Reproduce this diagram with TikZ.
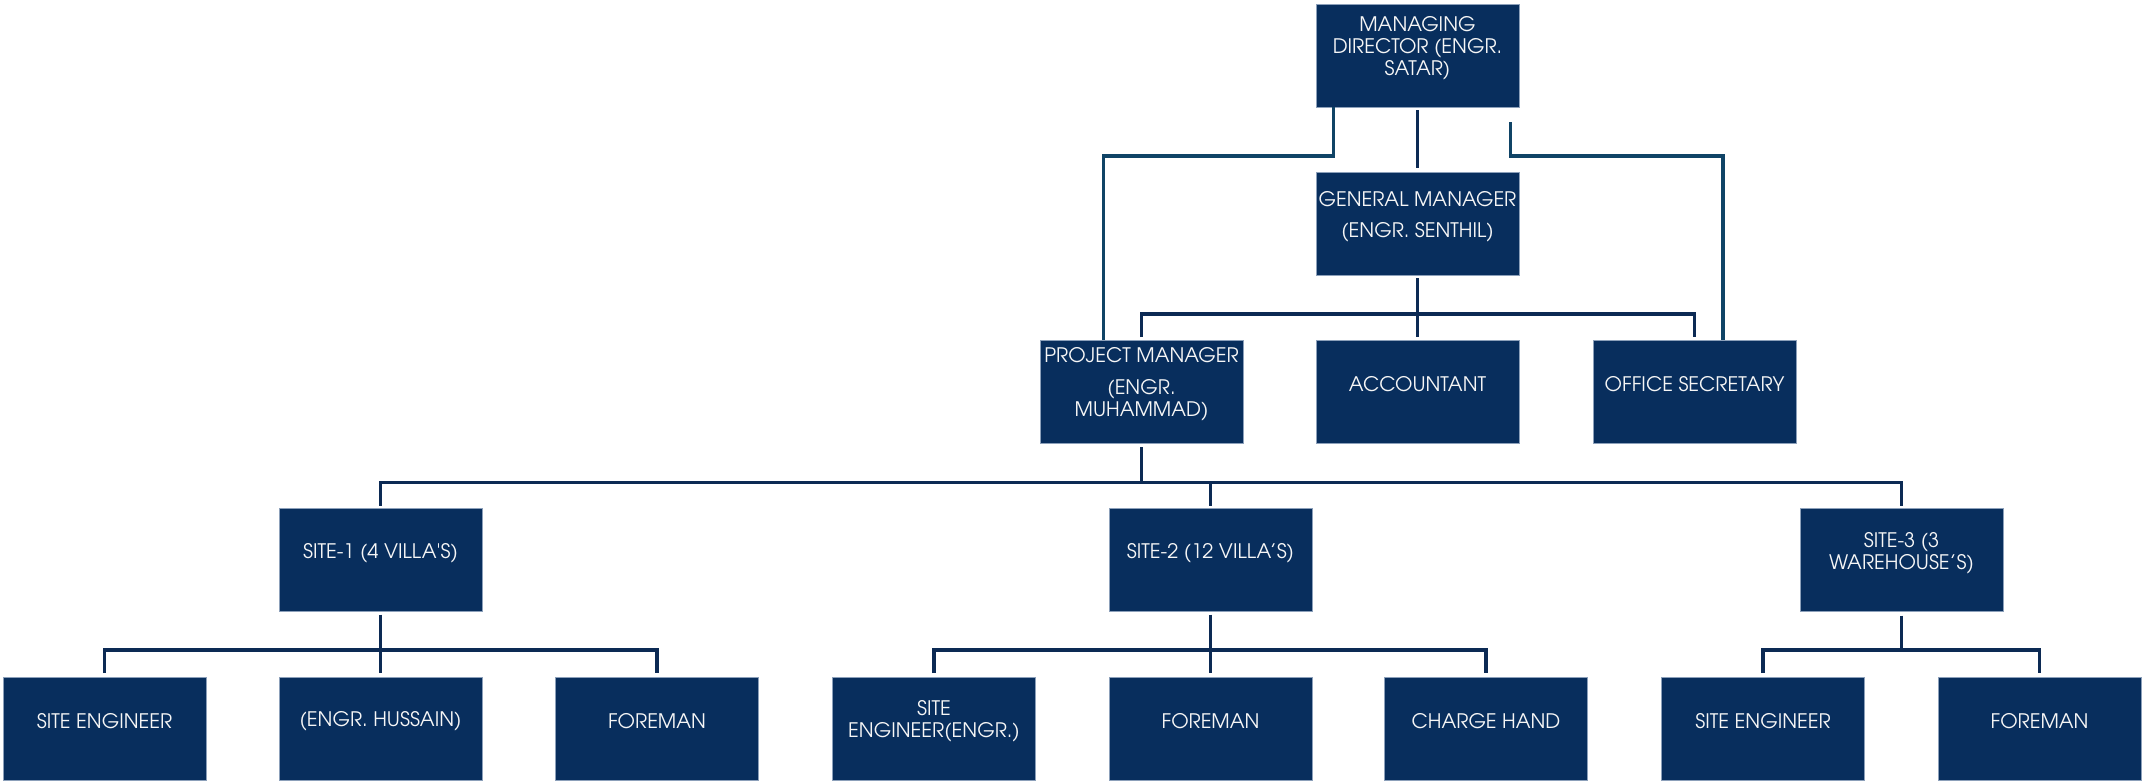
\documentclass[tikz,border=0pt]{standalone}
\usepackage{fontspec}
\setmainfont{texgyreadventor-regular.otf}
\usetikzlibrary{calc}
\definecolor{boxfill}{RGB}{8,46,93}
\definecolor{boxedge}{RGB}{140,160,186}
\definecolor{linknavy}{RGB}{12,42,84}
\definecolor{linkteal}{RGB}{16,68,102}
\definecolor{txtcol}{RGB}{246,246,246}
\newcommand\orgnode[3]{%
  \node[orgbox] (#1) at (#2) {};
  \node[orgtext] (#1t) at ([yshift=7pt]#1.center) {#3};}
\begin{document}
\begin{tikzpicture}[x=1pt,y=-1pt,
  orgbox/.style={fill=boxfill, draw=boxedge, line width=0.8pt, minimum width=203pt, minimum height=103pt, inner sep=0pt, outer sep=0pt},
  orgtext/.style={text=txtcol, font=\fontsize{20}{22}\selectfont, align=center, inner sep=0pt},
  link/.style={draw=linknavy, line width=3.3pt},
  mdlink/.style={draw=linkteal, line width=3.3pt}]
\useasboundingbox (0,0) rectangle (2145,784);
% nodes
\orgnode{md}{1417.5,55.5}{MANAGING\\DIRECTOR (ENGR.\\SATAR)}
\orgnode{gm}{1417.5,223.5}{GENERAL MANAGER\\[9pt](ENGR. SENTHIL)}
\orgnode{pm}{1141.5,391.5}{PROJECT MANAGER\\[10pt](ENGR.\\MUHAMMAD)}
\orgnode{acc}{1417.5,391.5}{ACCOUNTANT}
\orgnode{os}{1694.5,391.5}{OFFICE SECRETARY}
\orgnode{s1}{380.5,560}{SITE-1 (4 VILLA\textquotesingle S)}
\orgnode{s2}{1210.5,560}{SITE-2 (12 VILLA’S)}
\orgnode{s3}{1901.5,560}{SITE-3 (3\\WAREHOUSE’S)}
\orgnode{b1}{104.5,728.5}{SITE ENGINEER}
\orgnode{b2}{380.5,728.5}{(ENGR. HUSSAIN)}
\orgnode{b3}{657,728.5}{FOREMAN}
\orgnode{b4}{934,728.5}{SITE\\ENGINEER(ENGR.)}
\orgnode{b5}{1210.5,728.5}{FOREMAN}
\orgnode{b6}{1486,728.5}{CHARGE HAND}
\orgnode{b7}{1763,728.5}{SITE ENGINEER}
\orgnode{b8}{2039.5,728.5}{FOREMAN}
% managing director links
\draw[mdlink] ([xshift=-84pt]md.south) -- ++(0,49) -| ([xshift=-38pt]pm.north);
\draw[link] ([yshift=-3pt]md.south) -- ([yshift=4pt]gm.north);
\draw[mdlink] ([xshift=93pt,yshift=-15pt]md.south) -- ++(0,34) -| ([xshift=28.5pt]os.north);
% general manager links
\draw[link] ([yshift=-3pt]gm.south) -- ([yshift=3pt]acc.north);
\draw[link] ([yshift=3pt]pm.north) -- ++(0,-23) -| ([yshift=3pt]os.north);
% project manager links
\draw[link] ([yshift=-4pt]pm.south) -- ([yshift=26pt]pm.south |- s2.north);
\draw[link] ([yshift=3pt]s1.north) -- ++(0,-23) -| ([yshift=3pt]s3.north);
\draw[link] ([yshift=3pt]s2.north) -- ([yshift=26pt]s2.north);
% site 1
\draw[link] ([yshift=-3pt]s1.south) -- ([yshift=4pt]b2.north);
\draw[link] ([yshift=4pt]b1.north) -- ++(0,-23) -| ([yshift=4pt]b3.north);
% site 2
\draw[link] ([yshift=-3pt]s2.south) -- ([yshift=4pt]b5.north);
\draw[link] ([yshift=4pt]b4.north) -- ++(0,-23) -| ([yshift=4pt]b6.north);
% site 3
\draw[link] ([yshift=-4pt]s3.south) -- ([yshift=27pt]s3.south |- b7.north);
\draw[link] ([yshift=4pt]b7.north) -- ++(0,-23) -| ([yshift=4pt]b8.north);
\end{tikzpicture}
\end{document}
